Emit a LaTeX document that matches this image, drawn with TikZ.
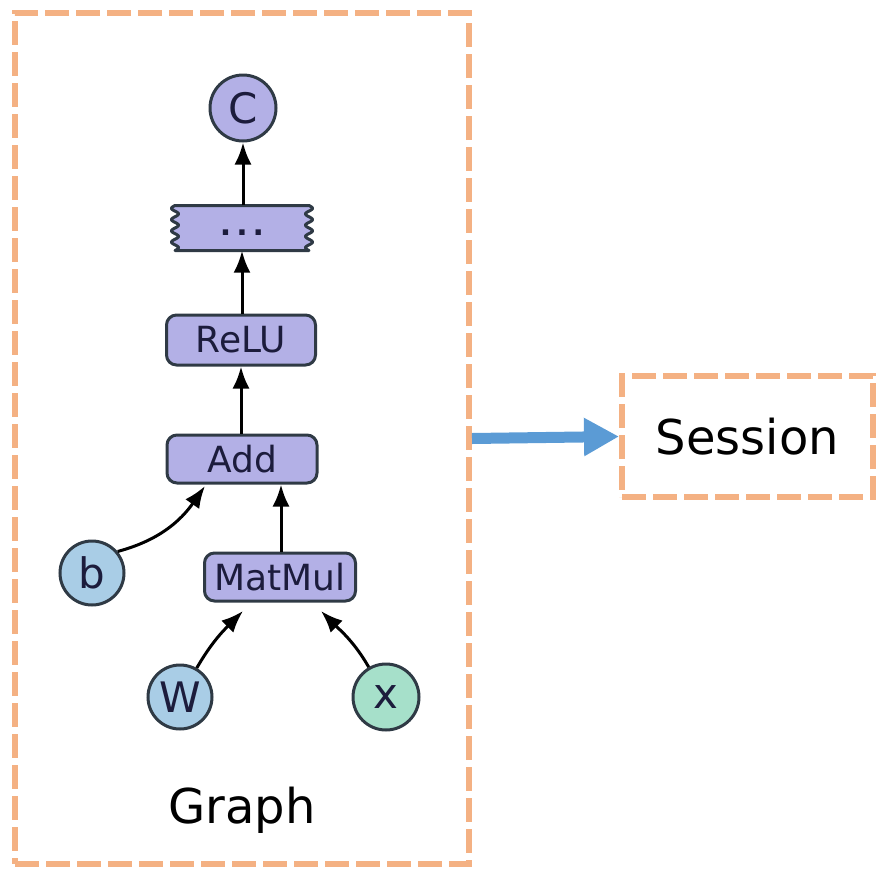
\documentclass[tikz,border=0pt]{standalone}
\usepackage{fontspec}
\setmainfont{DejaVu Sans}
\usetikzlibrary{arrows.meta,backgrounds}
\definecolor{dashorange}{HTML}{F4B183}
\definecolor{arrowblue}{HTML}{5B9BD5}
\definecolor{lav}{HTML}{B3B0E6}
\definecolor{lblue}{HTML}{A9CDE6}
\definecolor{mint}{HTML}{A6E0CA}
\definecolor{edge}{HTML}{2F3A45}
\definecolor{lbl}{HTML}{1C1C3C}
\tikzset{
  frame/.style={draw=dashorange, line width=6pt, dash pattern=on 24pt off 7pt, inner sep=0pt},
  opbox/.style={draw=edge, fill=lav, line width=3pt, rounded corners=10pt, inner sep=0pt,
    text=lbl, font=\fontsize{36}{36}\selectfont},
  varnode/.style={circle, draw=edge, line width=3pt, inner sep=0pt, text=lbl,
    font=\fontsize{42}{42}\selectfont},
  arr/.style={draw=black, line width=3pt, -{Latex[length=22pt,width=17pt]}},
  wavy/.style={draw=edge, fill=lav, line width=3pt, line join=round},
}
\begin{document}
\begin{tikzpicture}[x=1pt,y=-1pt]
\useasboundingbox (0,0) rectangle (876,868);
% frames
\node[frame, minimum width=454pt, minimum height=851pt] (graph) at (242,438.5) {};
\node[frame, minimum width=251pt, minimum height=121pt, font=\fontsize{48}{48}\selectfont] (session) at (747.5,436.5) {Session};
\node[font=\fontsize{48}{48}\selectfont] (glabel) at (242,810) {Graph};
\draw[arrowblue, line width=11pt, -{Triangle[length=35pt,width=36pt]}] (graph.east) -- (session.west);
% nodes
\node[varnode, fill=lav, minimum size=66pt] (C) at (243,108) {C};
\node[inner sep=0pt, minimum width=134pt, minimum height=45pt, text height=14pt, text depth=0pt, text=lbl, font=\fontsize{30}{30}\bfseries\selectfont] (dots) at (242,228) {.\hspace{5pt}.\hspace{5pt}.};
\begin{pgfonlayer}{background}
\path[wavy] (175,205.5) -- (309,205.5)
  -- plot[domain=0:45, samples=80, smooth] ({309+3.5*sin(\x*360/11.25)}, {205.5+\x})
  -- (175,250.5)
  -- plot[domain=45:0, samples=80, smooth] ({175-3.5*sin(\x*360/11.25)}, {205.5+\x})
  -- cycle;
\end{pgfonlayer}
\node[opbox, minimum width=149pt, minimum height=50pt] (relu) at (241,340) {ReLU};
\node[opbox, minimum width=150pt, minimum height=48pt] (add) at (242,459) {Add};
\node[opbox, minimum width=151pt, minimum height=48pt] (matmul) at (280,577) {MatMul};
\node[varnode, fill=lblue, minimum size=64pt] (b) at (92,573) {b};
\node[varnode, fill=lblue, minimum size=64pt] (W) at (180,697) {W};
\node[varnode, fill=mint, minimum size=66pt] (x) at (386,697) {x};
% edges
\draw[arr] (dots.north -| C.south) -- (C.south);
\draw[arr] (relu.north -| dots.south) -- (dots.south);
\draw[arr] (add.north -| relu.south) -- (relu.south);
\draw[arr] (matmul.north -| 281,0) -- (add.south -| 281,0);
\draw[arr] (b.40) to[out=15, in=-125] (205,486);
\draw[arr] (W.60) to[out=60, in=-135] (243,611);
\draw[arr] (x.120) to[out=120, in=-45] (321,611);
\end{tikzpicture}
\end{document}
